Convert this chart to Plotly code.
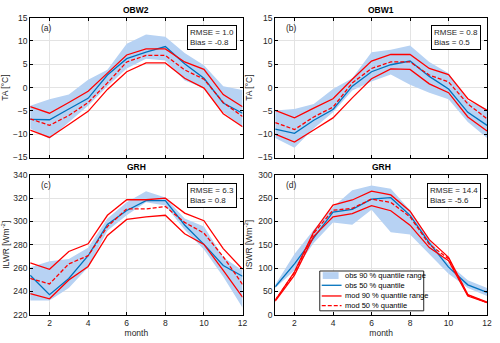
import plotly.graph_objects as go
from plotly.subplots import make_subplots

months = list(range(1, 13))

# (a) OBW2 air temperature
a_obs_hi = [-3.9, -2.5, -1.5, 1.7, 3.8, 9.4, 11.4, 10.9, 7.4, 4.8, 0.3, -0.5]
a_obs_lo = [-8.8, -11.0, -7.4, -3.9, 0.3, 4.1, 6.2, 5.8, 1.5, -0.1, -5.3, -8.4]
a_obs_med = [-6.8, -6.9, -4.6, -2.3, 2.7, 6.2, 7.6, 8.8, 5.1, 2.0, -3.3, -5.5]
a_mod_hi = [-4.1, -5.5, -3.2, -0.8, 3.1, 7.0, 8.3, 8.3, 5.5, 3.9, -1.5, -4.1]
a_mod_lo = [-9.1, -10.7, -7.9, -5.1, -0.4, 3.4, 5.3, 5.3, 2.0, -0.1, -5.6, -8.4]
a_mod_med = [-6.7, -8.1, -6.0, -3.2, 1.0, 5.5, 6.9, 6.9, 3.8, 1.8, -3.2, -6.2]

# (b) OBW1 air temperature
b_obs_hi = [-4.9, -4.6, -3.5, -0.3, 2.0, 7.6, 8.1, 9.0, 5.5, 3.1, -2.8, -4.6]
b_obs_lo = [-10.8, -12.9, -8.8, -5.3, -0.6, 1.3, 2.8, 0.6, -1.1, -2.5, -7.4, -10.8]
b_obs_med = [-8.9, -9.8, -7.0, -4.7, 0.3, 3.4, 4.9, 5.7, 2.4, -0.3, -5.3, -8.1]
b_mod_hi = [-4.9, -6.5, -4.4, -2.4, 1.8, 5.7, 7.1, 7.1, 4.1, 2.8, -2.4, -4.9]
b_mod_lo = [-10.0, -11.7, -9.1, -6.5, -2.2, 1.9, 4.0, 3.9, 0.8, -1.1, -6.3, -9.3]
b_mod_med = [-7.5, -9.0, -6.3, -4.2, 1.0, 4.1, 5.5, 5.5, 2.7, 1.2, -3.5, -6.7]

# (c) GRH incoming longwave
c_obs_hi = [260.8, 265.8, 267.8, 277.5, 302.5, 316.4, 326.0, 320.5, 302.5, 295.6, 269.2, 258.0]
c_obs_lo = [232.2, 232.2, 242.8, 260.8, 292.0, 305.3, 316.4, 313.6, 292.8, 276.0, 252.5, 226.0]
c_obs_med = [253.9, 237.2, 251.1, 270.6, 297.5, 309.4, 317.8, 317.8, 297.0, 280.3, 262.2, 253.0]
c_mod_hi = [264.4, 258.9, 274.2, 280.8, 305.3, 318.6, 318.6, 320.0, 307.2, 300.6, 276.7, 258.9]
c_mod_lo = [238.0, 233.6, 249.7, 261.4, 288.0, 301.7, 303.9, 305.3, 289.4, 280.3, 258.0, 235.0]
c_mod_med = [251.1, 246.4, 263.6, 270.6, 295.6, 310.8, 310.8, 312.8, 299.2, 290.0, 269.7, 246.0]

# (d) GRH incoming shortwave
d_obs_hi = [64, 130, 182, 231, 267, 277, 270, 224, 161, 109, 74, 57]
d_obs_lo = [57, 95, 154, 198, 193, 225, 177, 172, 130, 88, 57, 40]
d_obs_med = [60, 109, 165, 220, 226, 248, 251, 213, 154, 102, 64, 48]
d_mod_hi = [31, 92, 178, 235, 246, 265, 257, 222, 161, 123, 43, 27]
d_mod_lo = [29, 85, 168, 210, 217, 234, 223, 192, 144, 116, 40, 26]
d_mod_med = [31, 90, 175, 224, 228, 248, 241, 210, 151, 120, 42, 26]

legend_labels = ["obs 90 % quantile range", "obs 50 % quantile",
                 "mod 90 % quantile range", "mod 50 % quantile"]

panels = [
    ("OBW2", "(a)", "RMSE = 1.0<br>Bias = -0.8", a_obs_hi, a_obs_lo, a_obs_med, a_mod_hi, a_mod_lo, a_mod_med),
    ("OBW1", "(b)", "RMSE = 0.8<br>Bias = 0.5", b_obs_hi, b_obs_lo, b_obs_med, b_mod_hi, b_mod_lo, b_mod_med),
    ("GRH", "(c)", "RMSE = 6.3<br>Bias = 0.8", c_obs_hi, c_obs_lo, c_obs_med, c_mod_hi, c_mod_lo, c_mod_med),
    ("GRH", "(d)", "RMSE = 14.4<br>Bias = -5.6", d_obs_hi, d_obs_lo, d_obs_med, d_mod_hi, d_mod_lo, d_mod_med),
]

BAND = "rgb(183,210,243)"
BLUE = "#0072BD"
RED = "#FF0000"
TXT = "#262626"
FONT = "Liberation Sans, Arial, sans-serif"
DASH = "4px,2px"

fig = make_subplots(rows=2, cols=2)

for i, (title, tag, stats, ohi, olo, omed, mhi, mlo, mmed) in enumerate(panels):
    r, c = i // 2 + 1, i % 2 + 1
    fig.add_trace(go.Scatter(x=months + months[::-1], y=ohi + olo[::-1], fill="toself",
                             fillcolor=BAND, line=dict(width=0), mode="lines",
                             name=legend_labels[0]), row=r, col=c)
    fig.add_trace(go.Scatter(x=months, y=omed, mode="lines", line=dict(color=BLUE, width=1.3),
                             name=legend_labels[1]), row=r, col=c)
    fig.add_trace(go.Scatter(x=months, y=mhi, mode="lines", line=dict(color=RED, width=1.3),
                             name=legend_labels[2]), row=r, col=c)
    fig.add_trace(go.Scatter(x=months, y=mlo, mode="lines", line=dict(color=RED, width=1.3),
                             name=legend_labels[2]), row=r, col=c)
    fig.add_trace(go.Scatter(x=months, y=mmed, mode="lines", line=dict(color=RED, width=1.3, dash=DASH),
                             name=legend_labels[3]), row=r, col=c)

xdom = [[0.061, 0.490], [0.556, 0.984]]
ydom = [[0.542, 0.962], [0.070, 0.490]]
ylab = ["TA [°C]", "TA [°C]", "ILWR [Wm<sup>-2</sup>]", "ISWR [Wm<sup>-2</sup>]"]
yrng = [[-15, 15], [-15, 15], [220, 340], [0, 300]]
ydt = [5, 5, 20, 50]

axis_style = dict(showline=True, linecolor="black", linewidth=1, mirror="ticks", ticks="inside",
                  ticklen=3, tickcolor="black", showgrid=True, gridcolor="#e3e3e3", gridwidth=1,
                  zeroline=False, tickfont=dict(size=8.5, color=TXT))

for i in range(4):
    r, c = i // 2, i % 2
    xn = "xaxis" if i == 0 else f"xaxis{i + 1}"
    yn = "yaxis" if i == 0 else f"yaxis{i + 1}"
    fig.layout[xn].update(domain=xdom[c], range=[1, 12], tickvals=[2, 4, 6, 8, 10, 12],
                          showticklabels=(r == 1), **axis_style)
    if r == 1:
        fig.layout[xn].update(title=dict(text="month", font=dict(size=8.5, color=TXT), standoff=3))
    fig.layout[yn].update(domain=ydom[r], range=yrng[i], dtick=ydt[i],
                          title=dict(text=ylab[i], font=dict(size=8.5, color=TXT), standoff=4),
                          **axis_style)
    xr = "x" if i == 0 else f"x{i + 1}"
    yr = "y" if i == 0 else f"y{i + 1}"
    title, tag, stats = panels[i][0], panels[i][1], panels[i][2]
    fig.add_annotation(text="<b>" + title + "</b>", xref="paper", yref="paper",
                       x=sum(xdom[c]) / 2, y=ydom[r][1], yanchor="bottom", xanchor="center",
                       showarrow=False, font=dict(size=8.5, color="black"), yshift=1)
    fig.add_annotation(text=tag, xref=xr + " domain", yref=yr + " domain", x=0.04, y=0.975,
                       xanchor="left", yanchor="top", showarrow=False,
                       font=dict(size=8.5, color=TXT))
    fig.add_annotation(text=stats, xref=xr + " domain", yref=yr + " domain", x=0.972, y=0.944,
                       xanchor="right", yanchor="top", showarrow=False, align="left",
                       bordercolor="black", borderwidth=1, borderpad=2, bgcolor="white",
                       font=dict(size=8, color=TXT))

# compact legend box inside panel (d), drawn by hand (plotly legend rows are too tall)
lx0, lx1, ly0, ly1 = 0.646, 0.856, 0.0816, 0.2012
fig.add_shape(type="rect", xref="paper", yref="paper", x0=lx0, x1=lx1, y0=ly0, y1=ly1,
              fillcolor="white", line=dict(color="#262626", width=1), layer="above")
row_y = [0.1875, 0.1583, 0.1262, 0.0971]
sx0, sx1 = 0.650, 0.690
fig.add_shape(type="rect", xref="paper", yref="paper", x0=0.652, x1=0.684,
              y0=row_y[0] - 0.0102, y1=row_y[0] + 0.0102, fillcolor=BAND, line=dict(width=0),
              layer="above")
sw = [(BLUE, "solid"), (RED, "solid"), (RED, DASH)]
for k, (col, dash) in enumerate(sw):
    fig.add_shape(type="line", xref="paper", yref="paper", x0=sx0, x1=sx1,
                  y0=row_y[k + 1], y1=row_y[k + 1], line=dict(color=col, width=1.3, dash=dash),
                  layer="above")
for k, lab in enumerate(legend_labels):
    fig.add_annotation(text=lab, xref="paper", yref="paper", x=0.692, y=row_y[k],
                       xanchor="left", yanchor="middle", showarrow=False,
                       font=dict(size=7.5, color="black"))

fig.update_layout(
    width=500, height=343,
    margin=dict(l=0, r=0, t=0, b=0),
    plot_bgcolor="white", paper_bgcolor="white",
    font=dict(family=FONT, size=8.5, color=TXT),
    showlegend=False,
)

fig.write_html("out.html", config={"displayModeBar": False},
               post_script="document.body.style.margin='0';")
